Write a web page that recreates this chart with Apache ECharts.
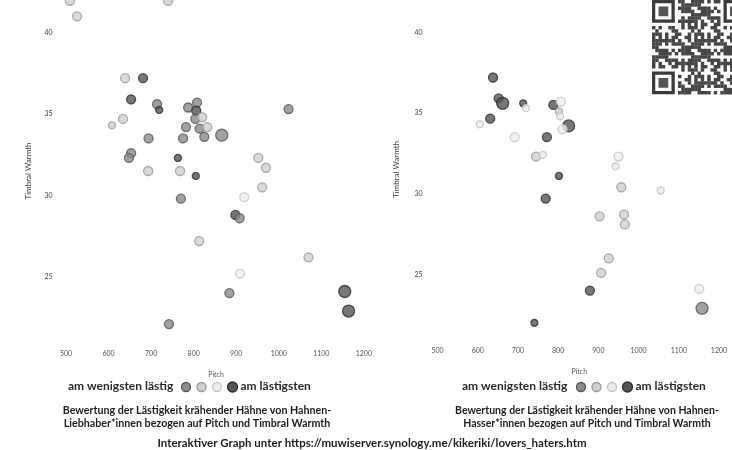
<!DOCTYPE html>
<html><head><meta charset="utf-8">
<script src="https://cdn.jsdelivr.net/npm/echarts@6/dist/echarts.min.js"></script>
<style>html,body{margin:0;padding:0;background:#fff}#c{width:732px;height:450px}</style>
</head><body><div id="c"></div>
<script>
// Lästigkeit level: 1 = am wenigsten lästig ... 4 = am lästigsten ; weight: relative marker size
const loversPitch  = [509,740,526,639,681,653,714,719,787,808,806,804,820,1023,634,608,782,814,832,825,866,694,775,653,648,763,952,970,693,768,805,961,919,770,898,908,813,1070,909,884,1155,1164,742];
const loversWarmth = [41.95,41.95,41.0,37.2,37.2,35.9,35.6,35.25,35.4,35.7,35.2,34.7,34.8,35.3,34.7,34.3,34.2,34.1,34.2,33.6,33.7,33.5,33.5,32.6,32.3,32.3,32.3,31.7,31.5,31.5,31.2,30.5,29.9,29.8,28.8,28.6,27.2,26.2,25.2,24.0,24.1,22.9,22.1];
const loversLevel  = [2,2,2,2,4,4,1,4,1,1,4,1,2,1,2,2,1,1,2,1,1,1,1,1,1,4,2,2,2,2,4,2,3,1,4,1,2,2,3,1,4,4,1];
const loversWeight = [2,2,2,2,2,2,2,1,2,2,2,2,2,2,2,1,2,2,2,2,3,2,2,2,2,1,2,2,2,2,1,2,2,2,2,2,2,2,2,2,3,3,2];

const hatersPitch  = [638,652,662,713,720,788,807,802,805,826,811,631,605,692,772,745,762,802,950,943,957,1055,769,903,964,966,926,907,879,1151,1158,741];
const hatersWarmth = [37.2,35.9,35.6,35.6,35.3,35.5,35.7,35.1,34.8,34.2,34.0,34.65,34.3,33.5,33.5,32.3,32.4,31.1,32.3,31.7,30.4,30.2,29.7,28.6,28.7,28.1,26.0,25.1,24.0,24.1,22.9,22.0];
const hatersLevel  = [4,4,4,4,3,4,3,2,3,4,3,4,3,3,4,2,3,4,3,3,2,3,4,2,2,2,2,2,4,3,1,4];
const hatersWeight = [2,2,3,1,1,2,2,1,1,3,2,2,1,2,2,2,1,1,2,1,2,1,2,2,2,2,2,2,2,2,3,1];

const xTickLabels = [500,600,700,800,900,1000,1100,1200];
const yTickLabels = [25,30,35,40];
const legendLow = 'am wenigsten lästig';
const legendHigh = 'am lästigsten';
const titleLovers = 'Bewertung der Lästigkeit krähender Hähne von Hahnen-\nLiebhaber*innen bezogen auf Pitch und Timbral Warmth';
const titleHaters = 'Bewertung der Lästigkeit krähender Hähne von Hahnen-\nHasser*innen bezogen auf Pitch und Timbral Warmth';
const linkText = 'Interaktiver Graph unter https://muwiserver.synology.me/kikeriki/lovers_haters.htm';

const fill   = {1:'#8a8a8a',2:'#cfcfcf',3:'#ececec',4:'#555555'};
const border = {1:'#555555',2:'#9a9a9a',3:'#c4c4c4',4:'#2e2e2e'};
const sizes  = {1:7,2:9,3:12};

function build(px, py, lv, wt){
  return px.map((x,i)=>({value:[x,py[i]], symbolSize:sizes[wt[i]],
    itemStyle:{color:fill[lv[i]], borderColor:border[lv[i]], borderWidth:1.3}}));
}

const FONT = 'Lato, "Open Sans", sans-serif';
function xAxis(gi){
  return {type:'value', gridIndex:gi, min:480, max:1225, interval:20,
    name:'Pitch', nameLocation:'middle', nameGap:29,
    nameTextStyle:{fontSize:7, color:'#555', fontFamily:FONT},
    axisLine:{show:false}, axisTick:{show:false}, splitLine:{show:false},
    axisLabel:{fontSize:7, color:'#555', margin:8, fontFamily:FONT,
      formatter:v=> xTickLabels.indexOf(v)>=0 ? String(v) : ''}};
}
function yAxis(gi, gap, margin){
  return {type:'value', gridIndex:gi, min:21, max:42, interval:1,
    name:'Timbral Warmth', nameLocation:'middle', nameGap:gap,
    nameTextStyle:{fontSize:8, color:'#444', fontFamily:FONT},
    axisLine:{show:false}, axisTick:{show:false}, splitLine:{show:false},
    axisLabel:{fontSize:7, color:'#444', margin:margin, fontFamily:FONT,
      formatter:v=> yTickLabels.indexOf(v)>=0 ? String(v) : ''}};
}

// pseudo QR decoration
const qr = [];
const N=29, M=3.25, qx=652, qy=0;
function finder(ox,oy){
  qr.push({type:'rect',shape:{x:ox,y:oy,width:7*M,height:7*M},style:{fill:'#3a3a3a'}});
  qr.push({type:'rect',shape:{x:ox+M,y:oy+M,width:5*M,height:5*M},style:{fill:'#fff'}});
  qr.push({type:'rect',shape:{x:ox+2*M,y:oy+2*M,width:3*M,height:3*M},style:{fill:'#555'}});
}
for(let i=0;i<N;i++)for(let j=0;j<N;j++){
  const inF=(i<8&&j<8)||(i<8&&j>=N-8)||(i>=N-8&&j<8);
  if(inF) continue;
  if(((i*i*5+j*j*3+i*j*7+i+2*j)%13)<7) qr.push({type:'rect',shape:{x:qx+j*M,y:qy+i*M,width:M+0.2,height:M+0.2},style:{fill:'#454545'}});
}
finder(qx,qy); finder(qx+(N-7)*M,qy); finder(qx,qy+(N-7)*M);

function legend(xText, cx){
  const g=[];
  g.push({type:'text',left:xText,top:380,style:{text:legendLow,font:'bold 12px '+FONT,fill:'#2a2a2a'}});
  const lv=[1,2,3,4];
  lv.forEach((l,k)=>g.push({type:'circle',shape:{cx:cx+k*15.5,cy:387,r:l===4?5:4.5},
    style:{fill:fill[l],stroke:border[l],lineWidth:1.3}}));
  g.push({type:'text',left:cx+3*15.5+8,top:380,style:{text:legendHigh,font:'bold 12px '+FONT,fill:'#2a2a2a'}});
  return g;
}

const chart = echarts.init(document.getElementById('c'), null, {renderer:'canvas'});
chart.setOption({
  backgroundColor:'#fff',
  animation:false,
  title:[
    {text:titleLovers,left:192,top:399,textAlign:'center',textStyle:{fontSize:10.7,fontWeight:'bold',lineHeight:13,color:'#1e1e1e',fontFamily:FONT}},
    {text:titleHaters,left:582,top:399,textAlign:'center',textStyle:{fontSize:10.5,fontWeight:'bold',lineHeight:13,color:'#1e1e1e',fontFamily:FONT}},
    {text:linkText,left:367,top:432,textAlign:'center',textStyle:{fontSize:11.5,fontWeight:'bold',color:'#1e1e1e',fontFamily:FONT}}
  ],
  grid:[
    {left:57.5, top:0, width:317, height:342},
    {left:429.5, top:-2, width:318, height:341}
  ],
  xAxis:[xAxis(0), xAxis(1)],
  yAxis:[yAxis(0,25,5), yAxis(1,29,7)],
  series:[
    {type:'scatter', xAxisIndex:0, yAxisIndex:0, data:build(loversPitch,loversWarmth,loversLevel,loversWeight), clip:true},
    {type:'scatter', xAxisIndex:1, yAxisIndex:1, data:build(hatersPitch,hatersWarmth,hatersLevel,hatersWeight), clip:true}
  ],
  graphic:[...qr, ...legend(68,186), ...legend(462,581)]
});
</script></body></html>
